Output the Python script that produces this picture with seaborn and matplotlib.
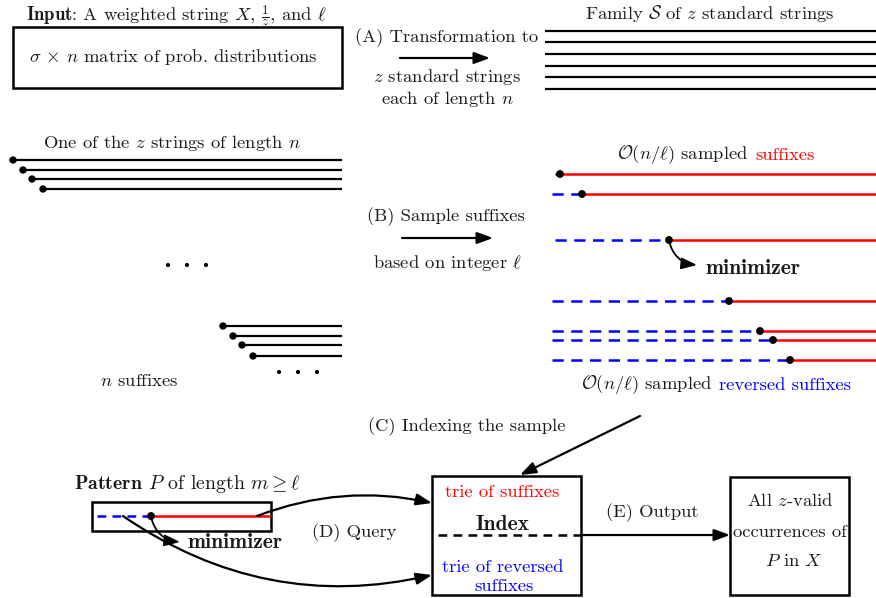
import matplotlib
matplotlib.use("Agg")
from matplotlib import pyplot as plt
from matplotlib.patches import Rectangle
from matplotlib.offsetbox import TextArea, HPacker, AnnotationBbox
import pandas as pd
import seaborn as sb

####################################################################################################################
"""DATA (pixel positions of the sketch)"""

# family S of z standard strings
family_y = [31, 42, 54, 66, 77, 89]
family_x = [545, 876]

# one of the z strings, first and last suffixes
suff_top_start = [13, 23, 32, 43]
suff_top_y = [160, 170, 179, 189]
suff_bot_start = [223, 233, 242, 253]
suff_bot_y = [326, 336, 345, 356]
suff_end = 342

# ellipsis dots between / after the suffixes
ell_x = [168, 187, 206, 279, 298, 317]
ell_y = [265, 265, 265, 372, 372, 372]

# sampled suffixes: row, minimizer position, start of the reversed part
samp_y = [174, 194, 240, 301, 331, 340, 360]
samp_x = [560, 582, 669, 729, 760, 773, 790]
samp_left = [555, 552, 555, 552, 552, 552, 552]
samp_right = 876

# pattern P: reversed part, minimizer, suffix part
pat_y = 516
pat_x = [97, 151, 271]

RED = "#ff0000"
BLUE = "#0000ff"
INK = "#1a1a1a"
FS = 13.4
FB = 15.5

####################################################################################################################
"""SETTINGS"""

sb.set_style("white")
plt.rcParams["font.family"] = ["cmr10", "DejaVu Sans"]
plt.rcParams["mathtext.fontset"] = "cm"
plt.rcParams["axes.unicode_minus"] = False
plt.rcParams["axes.formatter.use_mathtext"] = True

fig = plt.figure(figsize=(8.76, 5.98), dpi=100)
ax = fig.add_axes([0, 0, 1, 1])
ax.set_xlim(0, 876)
ax.set_ylim(598, 0)
ax.axis("off")


def txt(x, y, s, **kw):
    kw.setdefault("size", FS)
    kw.setdefault("color", INK)
    kw.setdefault("ha", "center")
    kw.setdefault("va", "center")
    ax.text(x, y, s, **kw)


def multi(x, y, parts, align=(0.5, 0.5), sep=5):
    # text with differently coloured pieces
    areas = [TextArea(s, textprops=dict(color=c, size=FS, family="cmr10")) for s, c in parts]
    box = HPacker(children=areas, align="baseline", pad=0, sep=sep)
    ab = AnnotationBbox(box, (x, y), xycoords="data", frameon=False, box_alignment=align, pad=0)
    ax.add_artist(ab)


def arrow(start, end, rad=0.0, lw=1.6):
    ax.annotate("", xy=end, xytext=start,
                arrowprops=dict(arrowstyle="-|>,head_length=0.95,head_width=0.35", color="black",
                                lw=lw, shrinkA=0, shrinkB=0,
                                connectionstyle="arc3,rad=%s" % rad))


def box(x0, y0, x1, y1):
    ax.add_patch(Rectangle((x0, y0), x1 - x0, y1 - y0, fill=False, ec="black", lw=1.8))


dash_blue = (0, (4.5, 3))

####################################################################################################################
"""TOP: input and transformation (A)"""

txt(176, 16, r"$\mathbf{Input}$: A weighted string $X$, $\frac{1}{z}$, and $\ell$")
box(13, 27, 342, 88)
txt(173, 57, r"$\sigma\,\times\,n$ matrix of prob. distributions")

txt(447, 38, "(A) Transformation to")
arrow((400, 58), (490, 58))
txt(447, 77, r"$z$ standard strings")
txt(447, 99, r"each of length $n$")

txt(710, 13, r"Family $\mathcal{S}$ of $z$ standard strings")
for y in family_y:
    ax.plot(family_x, [y, y], color="black", lw=1.6, solid_capstyle="butt")

####################################################################################################################
"""LEFT: suffixes of one string"""

txt(172, 143, r"One of the $z$ strings of length $n$")
dots = pd.DataFrame({"x": suff_top_start + suff_bot_start, "y": suff_top_y + suff_bot_y})
for x0, y in zip(dots["x"], dots["y"]):
    ax.plot([x0, suff_end], [y, y], color="black", lw=1.6, solid_capstyle="butt")
sb.scatterplot(data=dots, x="x", y="y", color="black", s=28, edgecolor="none", ax=ax, zorder=5)

sb.scatterplot(x=ell_x, y=ell_y, color="black", s=9, edgecolor="none", ax=ax)
txt(139, 381, r"$n$ suffixes")

####################################################################################################################
"""MIDDLE: sampling (B)"""

txt(446, 217, "(B) Sample suffixes")
arrow((402, 238), (493, 238))
txt(447, 263, r"based on integer $\ell$")

####################################################################################################################
"""RIGHT: sampled suffixes"""

multi(716, 155, [(r"$\mathcal{O}(n/\ell)$ sampled", INK), ("suffixes", RED)])
samp = pd.DataFrame({"x": samp_x, "y": samp_y, "left": samp_left})
for _, r in samp.iterrows():
    ax.plot([r["left"], r["x"]], [r["y"], r["y"]], color=BLUE, lw=1.8, ls=dash_blue)
    ax.plot([r["x"], samp_right], [r["y"], r["y"]], color=RED, lw=1.8, solid_capstyle="butt")
sb.scatterplot(data=samp, x="x", y="y", color="black", s=32, edgecolor="none", ax=ax, zorder=5)

arrow((669, 241), (697, 265), rad=0.35, lw=1.3)
txt(706, 268, "minimizer", ha="left", family="cmb10", size=FB)

multi(716, 385, [(r"$\mathcal{O}(n/\ell)$ sampled", INK), ("reversed suffixes", BLUE)])

####################################################################################################################
"""BOTTOM: indexing (C), query (D), output (E)"""

txt(467, 427, "(C) Indexing the sample")
arrow((640, 416), (520, 475))

# index box
box(432, 476, 581, 595)
txt(502, 492, "trie of suffixes", color=RED)
txt(503, 524, "Index", family="cmb10", size=FB)
ax.plot([438, 581], [535, 535], color="black", lw=1.8, ls=(0, (3.5, 2.5)))
txt(503, 567, "trie of reversed", color=BLUE)
txt(504, 586, "suffixes", color=BLUE)

# output
arrow((581, 535), (730, 535))
txt(652, 513, "(E) Output")
box(730, 477, 849, 595)
txt(790, 500, r"All $z$-valid")
txt(790, 532, "occurrences of")
txt(794, 561, r"$P$ in $X$")

# pattern
txt(74, 484, r"$\mathbf{Pattern}$ $P$ of length $m \geq \ell$", ha="left", size=14.3)
box(92, 502, 271, 531)
ax.plot([pat_x[0], pat_x[1]], [pat_y, pat_y], color=BLUE, lw=1.8, ls=(0, (3.5, 2.5)))
ax.plot([pat_x[1], pat_x[2]], [pat_y, pat_y], color=RED, lw=1.8, solid_capstyle="butt")
sb.scatterplot(x=[pat_x[1]], y=[pat_y], color="black", s=32, edgecolor="none", ax=ax, zorder=5)
arrow((151, 517), (180, 542), rad=0.35, lw=1.3)
txt(188, 543, "minimizer", ha="left", family="cmb10", size=FB)

arrow((257, 516), (432, 503), rad=-0.15)
arrow((123, 516), (432, 575), rad=0.22)
txt(354, 533, "(D) Query")

plt.savefig("out.png", dpi=100)
plt.close()
